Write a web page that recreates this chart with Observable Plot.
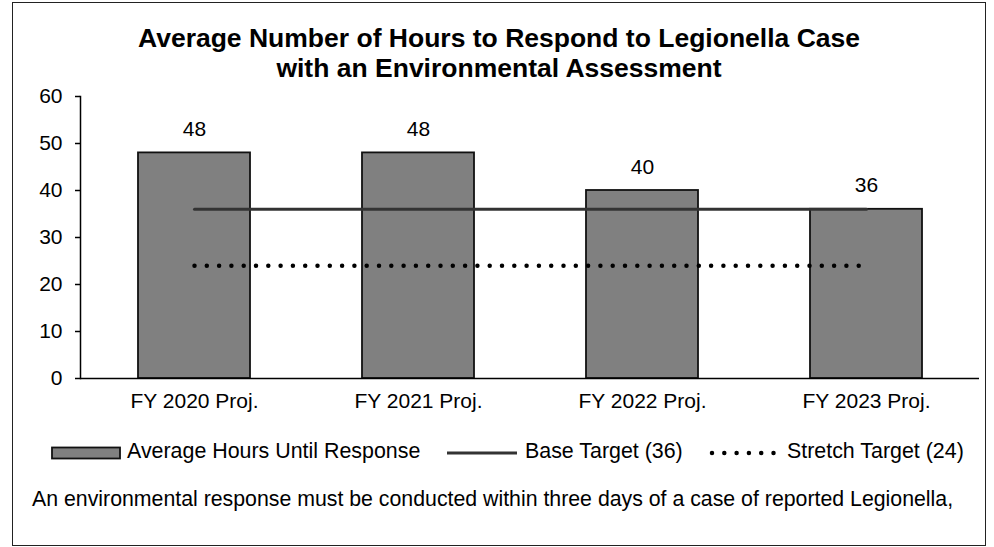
<!DOCTYPE html>
<html>
<head>
<meta charset="utf-8">
<script src="https://cdn.jsdelivr.net/npm/d3@7"></script>
<script src="https://cdn.jsdelivr.net/npm/@observablehq/plot@0.6"></script>
<style>
  html, body { margin: 0; padding: 0; background: #fff; }
  #wrap { position: relative; width: 994px; height: 547px; font-family: "Liberation Sans", Arial, sans-serif; color: #000; }
  #border { position: absolute; left: 12px; top: 2px; width: 974px; height: 544px; border: 1.5px solid #222; box-sizing: border-box; }
  #title { position: absolute; left: 12px; width: 974px; top: 23px; text-align: center; font-weight: bold; font-size: 26.5px; line-height: 30px; }
  #chart { position: absolute; left: 0; top: 88px; }
  #legend { position: absolute; left: 0; top: 430px; }
  #footer { position: absolute; left: 32px; top: 489px; font-size: 21.3px; line-height: 21px; white-space: nowrap; }
</style>
</head>
<body>
<div id="wrap">
  <div id="border"></div>
  <div id="title">Average Number of Hours to Respond to Legionella Case<br>with an Environmental Assessment</div>
  <div id="chart"></div>
  <svg id="legend" width="994" height="50"></svg>
  <div id="footer">An environmental response must be conducted within three days of a case of reported Legionella,</div>
</div>
<script>
const categories = ["FY 2020 Proj.", "FY 2021 Proj.", "FY 2022 Proj.", "FY 2023 Proj."];
const avgHours = [48, 48, 40, 36];
const baseTarget = [36, 36, 36, 36];
const stretchTarget = [24, 24, 24, 24];
const yTicks = [0, 10, 20, 30, 40, 50, 60];
const seriesNames = ["Average Hours Until Response", "Base Target (36)", "Stretch Target (24)"];

const data = categories.map((c, i) => ({cat: c, hours: avgHours[i], base: baseTarget[i], stretch: stretchTarget[i]}));

const chart = Plot.plot({
  width: 994,
  height: 330,
  marginLeft: 80,
  marginRight: 15,
  marginTop: 8,
  marginBottom: 40,
  style: {fontFamily: "'Liberation Sans', Arial, sans-serif", fontSize: "21px", color: "#000", background: "transparent", overflow: "visible"},
  x: {type: "band", domain: categories, paddingInner: 0.5, paddingOuter: 0.25, label: null},
  y: {domain: [0, 60], label: null},
  marks: [
    Plot.barY(data, {x: "cat", y: "hours", fill: "#808080", stroke: "#111", strokeWidth: 1.8}),
    Plot.lineY(data, {x: "cat", y: "base", stroke: "#333", strokeWidth: 3}),
    Plot.lineY(data, {x: "cat", y: "stretch", stroke: "#000", strokeWidth: 4.5, strokeDasharray: "0,12.3", strokeLinecap: "round"}),
    Plot.text(data, {x: "cat", y: "hours", text: d => String(d.hours), lineAnchor: "bottom", dy: -17, fontSize: 21, fill: "#000"}),
    Plot.axisX({tickSize: 0, tickPadding: 15, fontSize: 21, label: null}),
    Plot.axisY({ticks: yTicks, tickSize: 5, tickPadding: 13, fontSize: 21, label: null, stroke: "#000", strokeWidth: 1.5}),
    Plot.ruleY([0], {stroke: "#000", strokeWidth: 1.5}),
    Plot.frame({anchor: "left", stroke: "#000", strokeWidth: 1.5})
  ]
});
document.getElementById("chart").appendChild(chart);

// Legend
const lg = d3.select("#legend");
const ty = 28;
lg.append("rect").attr("x", 52).attr("y", 17.5).attr("width", 68).attr("height", 11).attr("fill", "#808080").attr("stroke", "#111").attr("stroke-width", 1.8);
lg.append("text").attr("x", 127).attr("y", ty).text(seriesNames[0]);
lg.append("line").attr("x1", 447).attr("x2", 517).attr("y1", 23).attr("y2", 23).attr("stroke", "#333").attr("stroke-width", 3);
lg.append("text").attr("x", 525).attr("y", ty).text(seriesNames[1]);
lg.append("line").attr("x1", 712).attr("x2", 774).attr("y1", 23).attr("y2", 23).attr("stroke", "#000").attr("stroke-width", 4.5).attr("stroke-dasharray", "0,12.3").attr("stroke-linecap", "round");
lg.append("text").attr("x", 787).attr("y", ty).text(seriesNames[2]);
lg.selectAll("text").attr("font-size", 21.4).attr("font-family", "'Liberation Sans', Arial, sans-serif").attr("fill", "#000");
</script>
</body>
</html>
